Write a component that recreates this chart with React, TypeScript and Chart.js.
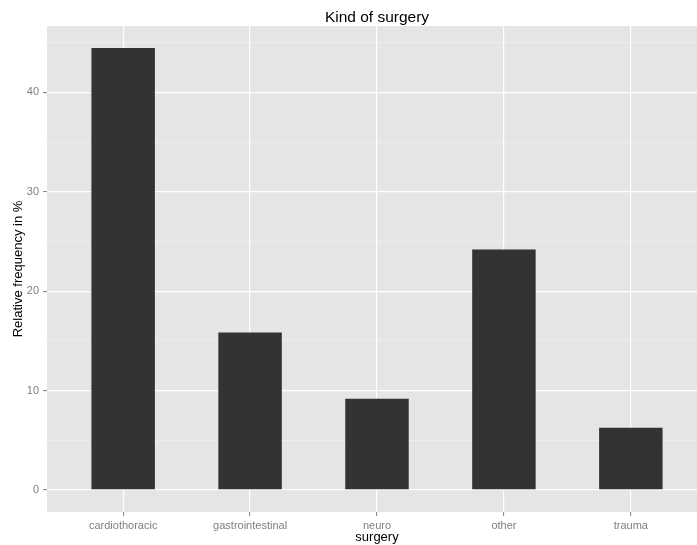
import React, { useEffect, useRef } from 'react';
import { Chart, registerables } from 'chart.js';
Chart.register(...registerables);

const categories = ['cardiothoracic', 'gastrointestinal', 'neuro', 'other', 'trauma'];
const values = [44.46, 15.83, 9.17, 24.19, 6.25];
const chartTitle = 'Kind of surgery';
const xTitle = 'surgery';
const yTitle = 'Relative frequency in %';

const W = 707;
const H = 545;
const FONT = "'Liberation Sans', Arial, Helvetica, sans-serif";
const GREY = '#7f7f7f';

export default function App() {
  const ref = useRef<HTMLCanvasElement>(null);
  useEffect(() => {
    if (!ref.current) return;
    const bg = {
      id: 'panelBg',
      beforeDraw(chart: any) {
        const { ctx, chartArea: a } = chart;
        ctx.save();
        ctx.fillStyle = '#e5e5e5';
        ctx.fillRect(a.left, a.top, a.right - a.left, a.bottom - a.top);
        ctx.restore();
      },
    };
    const maxV = Math.max(...values);
    const yMin = -maxV * 0.05;
    const yMax = maxV * 1.05;
    const n = categories.length;
    const chart = new Chart(ref.current, {
      type: 'bar',
      data: {
        datasets: [
          {
            data: categories.map((_, i) => ({ x: i, y: values[i] })),
            backgroundColor: '#333333',
            borderWidth: 0,
            barPercentage: 0.5,
            categoryPercentage: 1.0,
          },
        ],
      },
      options: {
        responsive: false,
        animation: false,
        layout: { padding: 0 },
        plugins: { legend: { display: false }, tooltip: { enabled: false }, title: { display: false } },
        scales: {
          x: {
            type: 'linear',
            position: 'bottom',
            offset: false,
            min: -0.6,
            max: n - 1 + 0.6,
            border: { display: false },
            grid: {
              offset: false,
              color: '#ffffff',
              lineWidth: 1.2,
              tickColor: GREY,
              tickLength: 4,
              tickWidth: 1,
            },
            ticks: {
              stepSize: 1,
              includeBounds: false,
              autoSkip: false,
              maxRotation: 0,
              padding: 3,
              color: GREY,
              font: { family: FONT, size: 11 },
              callback: (v: any) => categories[v as number] ?? '',
            },
            title: {
              display: true,
              text: xTitle,
              color: '#000000',
              font: { family: FONT, size: 13, lineHeight: 1.2 },
              padding: { top: 0, bottom: 0 },
            },
            afterFit: (s: any) => { s.height = 33; },
          },
          x2: {
            type: 'linear',
            position: 'top',
            offset: false,
            min: -0.6,
            max: n - 1 + 0.6,
            border: { display: false },
            grid: { display: false, drawTicks: false, offset: false },
            ticks: { display: false },
            title: {
              display: true,
              text: chartTitle,
              color: '#000000',
              font: { family: FONT, size: 15.5, lineHeight: 1.2 },
              padding: { top: 8, bottom: 0 },
            },
            afterFit: (s: any) => { s.height = 26; },
          },
          y: {
            type: 'linear',
            min: yMin,
            max: yMax,
            border: { display: false },
            grid: {
              color: (c: any) => (c.tick && c.tick.value % 10 === 0 ? '#ffffff' : '#f2f2f2'),
              lineWidth: (c: any) => (c.tick && c.tick.value % 10 === 0 ? 1.2 : 0.6),
              tickColor: (c: any) => (c.tick && c.tick.value % 10 === 0 ? GREY : 'rgba(0,0,0,0)'),
              tickLength: 4,
              tickWidth: 1,
            },
            ticks: {
              stepSize: 5,
              includeBounds: false,
              autoSkip: false,
              padding: 4,
              color: GREY,
              font: { family: FONT, size: 11 },
              callback: (v: any) => ((v as number) % 10 === 0 ? String(v) : ''),
            },
            title: {
              display: true,
              text: yTitle,
              color: '#000000',
              font: { family: FONT, size: 13, lineHeight: 1.2 },
              padding: { top: 11, bottom: 0 },
            },
            afterFit: (s: any) => { s.width = 47; },
          },
        },
      },
      plugins: [bg],
    } as any);
    return () => chart.destroy();
  }, []);
  return (
    <div style={{ position: 'fixed', left: 0, top: 0, width: 697, height: 545, overflow: 'hidden', background: '#ffffff' }}>
      <canvas ref={ref} width={W} height={H} style={{ width: W, height: H, display: 'block' }} />
    </div>
  );
}
